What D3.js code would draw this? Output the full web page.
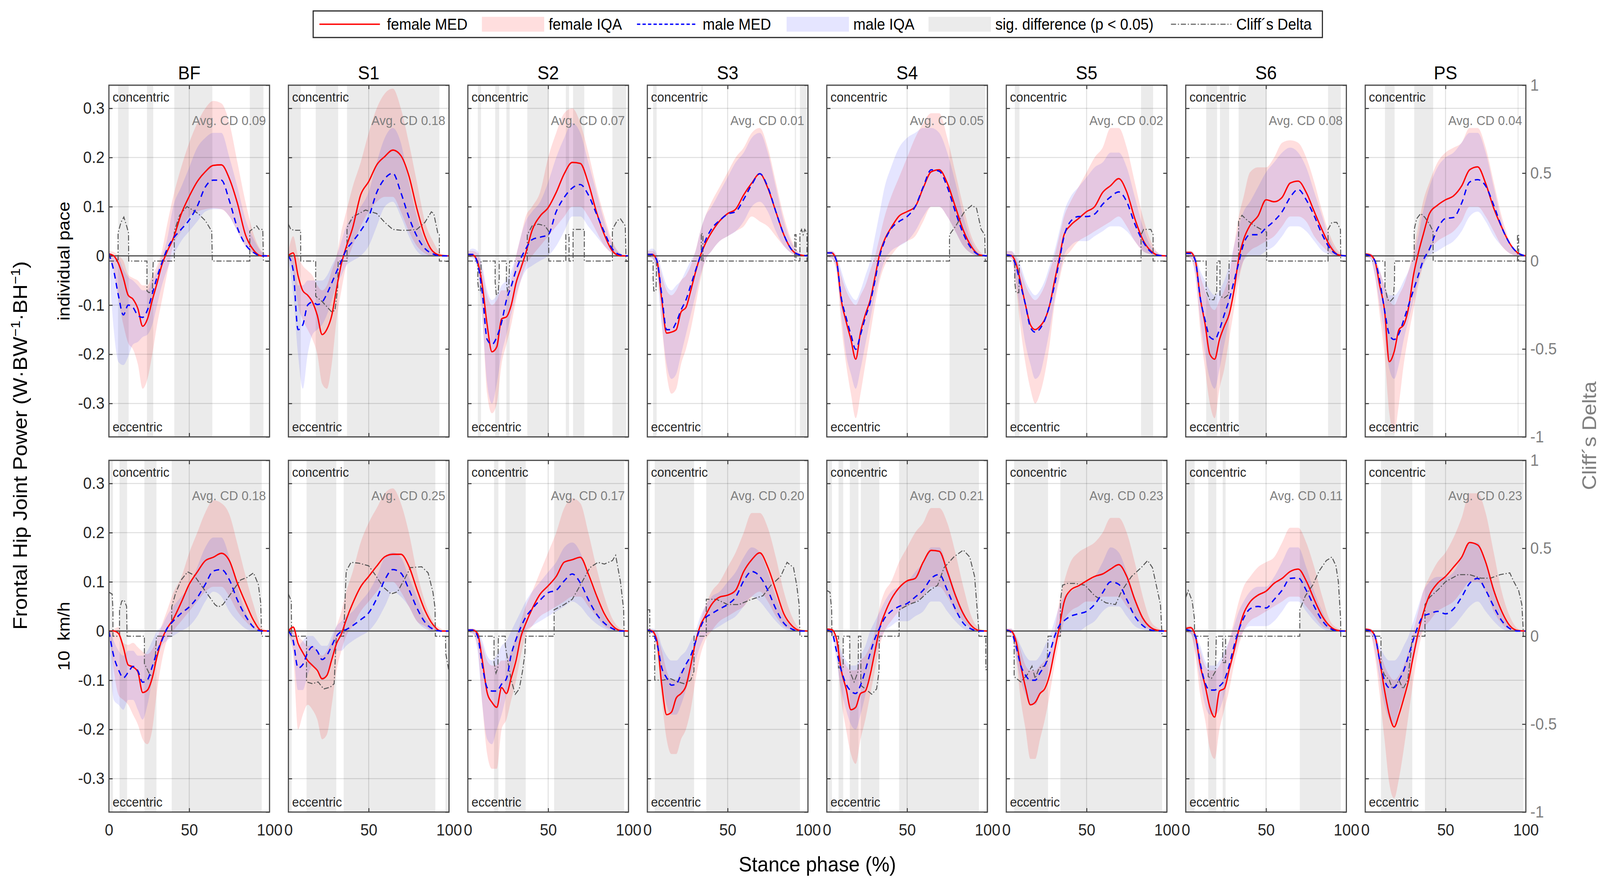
<!DOCTYPE html>
<html>
<head>
<meta charset="utf-8">
<script src="https://cdn.jsdelivr.net/npm/d3@7"></script>
<style>
  html, body { margin: 0; padding: 0; width: 100%; height: 100%; overflow: hidden; background: #fff; }
  #chart svg { display: block; width: 100vw; height: 100vh; }
  svg text { font-family: "Liberation Sans", Arial, Helvetica, sans-serif; }
</style>
</head>
<body>
<div id="chart"></div>
<script>
// stance phase sample points (%)
const stance = [0,3,6,9,12,15,18,21,24,27,30,33,36,40,45,50,55,60,65,70,75,80,85,90,95,100];
const columns = ["BF","S1","S2","S3","S4","S5","S6","PS"];
const rowLabels = ["individual pace", "10  km/h"];
const avgCD = [
  [0.09,0.18,0.07,0.01,0.05,0.02,0.08,0.04],
  [0.18,0.25,0.17,0.20,0.21,0.23,0.11,0.23]
];
const powerTicks = [-0.3,-0.2,-0.1,0,0.1,0.2,0.3];
const cliffTicks = [-1,-0.5,0,0.5,1];
const stanceTicks = [0,50,100];
const legendLabels = ["female MED","female IQA","male MED","male IQA","sig. difference (p < 0.05)","Cliff\u00b4s Delta"];

// ---- individual pace (one list per column, BF..PS) ----
const femaleMedPace = [
  [0.004,0,-0.016,-0.045,-0.08,-0.088,-0.107,-0.143,-0.128,-0.09,-0.055,-0.018,0.007,0.035,0.085,0.121,0.151,0.171,0.184,0.185,0.157,0.107,0.043,0.012,0,0],
  [0.001,0.006,-0.04,-0.071,-0.08,-0.094,-0.121,-0.16,-0.149,-0.121,-0.066,-0.016,0.018,0.057,0.124,0.151,0.185,0.202,0.215,0.204,0.163,0.096,0.04,0.009,0.001,0],
  [0.003,0.002,-0.012,-0.06,-0.14,-0.195,-0.185,-0.128,-0.124,-0.1,-0.055,-0.025,0.005,0.052,0.081,0.098,0.129,0.167,0.19,0.188,0.148,0.09,0.043,0.01,0,0],
  [0.003,0.003,-0.01,-0.09,-0.157,-0.155,-0.15,-0.114,-0.105,-0.071,-0.033,0,0.024,0.048,0.071,0.086,0.095,0.124,0.148,0.167,0.138,0.09,0.043,0.012,0.002,0],
  [0.006,0.006,-0.01,-0.09,-0.133,-0.17,-0.21,-0.155,-0.119,-0.09,-0.043,0.005,0.033,0.057,0.081,0.09,0.1,0.138,0.171,0.175,0.148,0.1,0.052,0.019,0.002,0],
  [0.002,0.001,-0.015,-0.055,-0.1,-0.14,-0.15,-0.143,-0.129,-0.1,-0.052,-0.005,0.043,0.062,0.076,0.09,0.1,0.129,0.143,0.157,0.13,0.076,0.033,0.01,0.001,0],
  [0.007,0.007,-0.01,-0.085,-0.138,-0.2,-0.21,-0.17,-0.143,-0.119,-0.071,-0.005,0.033,0.062,0.081,0.114,0.11,0.119,0.148,0.152,0.129,0.09,0.052,0.019,0.002,0],
  [0.004,0.002,-0.01,-0.06,-0.11,-0.215,-0.195,-0.15,-0.14,-0.105,-0.04,0.005,0.042,0.086,0.103,0.114,0.122,0.142,0.175,0.181,0.147,0.097,0.058,0.025,0.006,0]
];
const maleMedPace = [
  [0.005,-0.03,-0.082,-0.12,-0.1,-0.105,-0.121,-0.125,-0.11,-0.077,-0.043,-0.014,0.012,0.035,0.054,0.073,0.101,0.14,0.154,0.154,0.112,0.057,0.023,0.007,0,0],
  [0,-0.03,-0.15,-0.14,-0.1,-0.094,-0.099,-0.094,-0.077,-0.055,-0.032,-0.01,0.012,0.029,0.051,0.079,0.129,0.157,0.168,0.129,0.079,0.04,0.015,0.004,0,0],
  [0.003,0.003,-0.015,-0.075,-0.17,-0.18,-0.165,-0.135,-0.09,-0.062,-0.029,-0.005,0.014,0.033,0.038,0.043,0.09,0.119,0.138,0.145,0.124,0.086,0.048,0.014,0.002,0],
  [0.003,0.003,-0.01,-0.08,-0.15,-0.15,-0.135,-0.11,-0.09,-0.06,-0.03,0,0.03,0.055,0.072,0.085,0.09,0.115,0.145,0.167,0.14,0.09,0.043,0.012,0.002,0],
  [0.006,0.006,-0.01,-0.085,-0.125,-0.16,-0.19,-0.16,-0.125,-0.095,-0.05,0,0.03,0.055,0.07,0.08,0.1,0.14,0.175,0.172,0.14,0.09,0.045,0.015,0.002,0],
  [0.002,0,-0.02,-0.06,-0.1,-0.145,-0.155,-0.148,-0.13,-0.1,-0.06,-0.01,0.04,0.07,0.08,0.08,0.085,0.105,0.12,0.13,0.11,0.065,0.03,0.008,0.001,0],
  [0.005,0.005,-0.01,-0.085,-0.13,-0.165,-0.17,-0.15,-0.119,-0.09,-0.052,-0.014,0.024,0.043,0.043,0.057,0.071,0.09,0.119,0.135,0.114,0.081,0.043,0.014,0.002,0],
  [0.003,0,-0.01,-0.05,-0.11,-0.16,-0.17,-0.158,-0.13,-0.1,-0.07,-0.04,-0.01,0.014,0.055,0.076,0.078,0.107,0.15,0.155,0.142,0.103,0.058,0.025,0.006,0]
];
const femaleLoPace = [
  [-0.005,-0.03,-0.09,-0.14,-0.177,-0.19,-0.22,-0.27,-0.25,-0.2,-0.14,-0.09,-0.04,0.02,0.05,0.08,0.09,0.095,0.097,0.095,0.08,0.05,0.02,0.005,0,0],
  [-0.005,-0.03,-0.1,-0.13,-0.15,-0.17,-0.2,-0.26,-0.27,-0.22,-0.13,-0.07,-0.02,0.02,0.06,0.09,0.11,0.12,0.12,0.09,0.05,0.02,0.005,0,0,0],
  [-0.003,-0.003,-0.02,-0.12,-0.28,-0.32,-0.3,-0.22,-0.18,-0.14,-0.09,-0.05,-0.02,0,0.02,0.04,0.06,0.08,0.1,0.1,0.08,0.05,0.02,0.005,0,0],
  [-0.003,-0.005,-0.03,-0.14,-0.24,-0.28,-0.27,-0.22,-0.19,-0.15,-0.1,-0.05,-0.01,0.01,0.03,0.04,0.05,0.06,0.08,0.07,0.06,0.04,0.02,0.005,0,0],
  [-0.003,-0.005,-0.03,-0.14,-0.22,-0.28,-0.33,-0.28,-0.22,-0.16,-0.1,-0.05,-0.02,0,0.02,0.03,0.04,0.07,0.1,0.1,0.08,0.05,0.02,0.005,0,0],
  [-0.003,-0.005,-0.06,-0.15,-0.22,-0.27,-0.3,-0.28,-0.24,-0.18,-0.1,-0.05,-0.01,0.01,0.03,0.04,0.05,0.06,0.07,0.08,0.06,0.03,0.01,0.003,0,0],
  [-0.003,-0.005,-0.04,-0.15,-0.23,-0.3,-0.33,-0.27,-0.23,-0.17,-0.11,-0.05,-0.01,0.01,0.02,0.03,0.04,0.06,0.08,0.08,0.07,0.04,0.02,0.005,0,0],
  [-0.003,-0.005,-0.04,-0.12,-0.2,-0.32,-0.36,-0.3,-0.22,-0.16,-0.11,-0.06,-0.02,0.01,0.03,0.04,0.05,0.07,0.1,0.1,0.08,0.05,0.02,0.005,0,0]
];
const femaleHiPace = [
  [0.01,0.008,0,-0.01,-0.038,-0.045,-0.05,-0.06,-0.06,-0.04,-0.02,0.01,0.06,0.12,0.18,0.23,0.27,0.3,0.315,0.31,0.27,0.19,0.11,0.045,0.01,0],
  [0.01,0.04,0,-0.02,-0.03,-0.04,-0.06,-0.07,-0.06,-0.03,0,0.05,0.09,0.14,0.19,0.25,0.3,0.33,0.34,0.3,0.23,0.15,0.07,0.03,0.005,0],
  [0.01,0.01,0.005,-0.03,-0.08,-0.1,-0.09,-0.07,-0.07,-0.05,0,0.04,0.08,0.1,0.13,0.2,0.25,0.29,0.3,0.27,0.21,0.14,0.08,0.03,0.005,0],
  [0.01,0.01,0,-0.04,-0.07,-0.08,-0.07,-0.05,-0.04,-0.02,0.01,0.05,0.08,0.11,0.14,0.17,0.2,0.22,0.25,0.26,0.22,0.15,0.08,0.03,0.005,0],
  [0.01,0.01,0,-0.04,-0.07,-0.09,-0.1,-0.08,-0.06,-0.03,0,0.04,0.08,0.12,0.16,0.2,0.24,0.27,0.29,0.29,0.24,0.17,0.1,0.04,0.01,0],
  [0.01,0.01,-0.005,-0.03,-0.06,-0.08,-0.09,-0.08,-0.06,-0.03,0,0.04,0.08,0.11,0.14,0.17,0.2,0.22,0.26,0.26,0.22,0.15,0.08,0.03,0.005,0],
  [0.01,0.01,0,-0.04,-0.07,-0.1,-0.11,-0.09,-0.07,-0.04,0.02,0.08,0.12,0.17,0.18,0.18,0.2,0.23,0.235,0.23,0.2,0.15,0.09,0.04,0.01,0],
  [0.005,0.005,-0.005,-0.03,-0.06,-0.09,-0.1,-0.08,-0.06,-0.03,0.01,0.06,0.11,0.15,0.19,0.21,0.22,0.23,0.26,0.26,0.22,0.15,0.08,0.03,0.005,0]
];
const maleLoPace = [
  [-0.01,-0.15,-0.216,-0.222,-0.205,-0.18,-0.175,-0.165,-0.16,-0.14,-0.1,-0.06,-0.03,0,0.03,0.05,0.07,0.09,0.095,0.095,0.08,0.05,0.02,0.005,0,0],
  [-0.005,-0.08,-0.2,-0.27,-0.2,-0.16,-0.15,-0.14,-0.12,-0.09,-0.06,-0.04,-0.02,-0.01,0,0.02,0.06,0.1,0.11,0.08,0.04,0.01,0,0,0,0],
  [-0.003,-0.005,-0.03,-0.13,-0.26,-0.3,-0.26,-0.2,-0.16,-0.12,-0.08,-0.05,-0.03,-0.02,-0.01,0,0.02,0.05,0.08,0.08,0.06,0.04,0.02,0.005,0,0],
  [-0.003,-0.005,-0.04,-0.14,-0.22,-0.25,-0.24,-0.2,-0.16,-0.12,-0.08,-0.04,-0.01,0.01,0.03,0.04,0.05,0.07,0.1,0.11,0.09,0.05,0.02,0.005,0,0],
  [-0.003,-0.005,-0.03,-0.12,-0.2,-0.24,-0.27,-0.23,-0.18,-0.13,-0.08,-0.04,-0.01,0.01,0.02,0.03,0.05,0.08,0.1,0.1,0.08,0.05,0.02,0.005,0,0],
  [-0.003,-0.005,-0.05,-0.12,-0.18,-0.22,-0.25,-0.24,-0.2,-0.15,-0.09,-0.04,0,0.02,0.03,0.03,0.04,0.05,0.06,0.06,0.05,0.03,0.01,0.003,0,0],
  [-0.003,-0.005,-0.04,-0.13,-0.2,-0.25,-0.27,-0.23,-0.18,-0.13,-0.08,-0.04,-0.01,0,0,0.01,0.02,0.04,0.06,0.06,0.05,0.03,0.01,0.003,0,0],
  [-0.003,-0.005,-0.04,-0.1,-0.16,-0.23,-0.25,-0.22,-0.17,-0.13,-0.09,-0.05,-0.02,0,0.01,0.02,0.03,0.05,0.08,0.09,0.07,0.04,0.02,0.005,0,0]
];
const maleHiPace = [
  [0.008,0,-0.005,-0.027,-0.043,-0.05,-0.06,-0.07,-0.07,-0.05,-0.03,0,0.03,0.1,0.14,0.18,0.22,0.24,0.25,0.25,0.2,0.14,0.075,0.035,0.008,0],
  [0.005,0,-0.06,-0.06,-0.05,-0.05,-0.05,-0.05,-0.04,-0.02,0,0.03,0.06,0.08,0.1,0.13,0.19,0.24,0.26,0.23,0.15,0.08,0.03,0.01,0,0],
  [0.01,0.015,0.01,-0.02,-0.07,-0.09,-0.08,-0.06,-0.05,-0.03,0,0.04,0.07,0.09,0.11,0.15,0.2,0.24,0.27,0.25,0.19,0.13,0.07,0.025,0.005,0],
  [0.01,0.015,0.005,-0.03,-0.06,-0.07,-0.06,-0.05,-0.03,-0.01,0.01,0.05,0.08,0.1,0.13,0.16,0.19,0.21,0.24,0.25,0.21,0.14,0.07,0.025,0.005,0],
  [0.01,0.01,0,-0.03,-0.06,-0.08,-0.09,-0.07,-0.04,-0.01,0.04,0.09,0.14,0.18,0.22,0.24,0.25,0.26,0.26,0.25,0.21,0.15,0.08,0.03,0.005,0],
  [0.01,0.01,0,-0.02,-0.05,-0.07,-0.08,-0.07,-0.05,-0.02,0.01,0.05,0.09,0.12,0.14,0.16,0.18,0.19,0.21,0.21,0.18,0.12,0.06,0.02,0.005,0],
  [0.01,0.01,0,-0.03,-0.05,-0.07,-0.08,-0.07,-0.05,-0.02,0.02,0.06,0.09,0.11,0.14,0.17,0.19,0.21,0.22,0.21,0.18,0.13,0.08,0.03,0.005,0],
  [0.005,0.005,-0.005,-0.03,-0.06,-0.08,-0.08,-0.07,-0.05,-0.03,0,0.04,0.09,0.14,0.18,0.2,0.21,0.23,0.25,0.25,0.21,0.14,0.07,0.025,0.005,0]
];
// significant stance intervals [start, end] in %
const sigPace = [
  [[5.7,12.3],[23.7,27.6],[40.7,64.4],[87.7,96.2]],
  [[0,7.7],[17,31],[36.5,94]],
  [[6.2,8.2],[17,19.5],[24,26],[37,50.4],[61,63],[65.5,72.5],[90,98.5]],
  [[3.6,5.8],[33.6,34.6],[91.8,92.6],[95,99.4]],
  [[76.4,98.7]],
  [[5.3,8.2],[83.9,91.4]],
  [[12.7,19.5],[21.3,27],[32.9,50.4],[88.6,96.5]],
  [[12.3,18.3],[30.5,42.3],[94.8,95.5]]
];
// Cliff's delta trace [stance %, delta]
const cliffPace = [
  [[0,0],[5.7,0],[5.7,0.16],[7.5,0.22],[9.3,0.25],[11,0.2],[12.2,0.16],[12.3,0],[23.7,0],[23.7,-0.17],[25,-0.18],[27,-0.17],[27.6,0],[40.7,0],[40.7,0.17],[44,0.26],[48.6,0.31],[55.6,0.27],[60,0.23],[64,0.17],[64.4,0],[87.7,0],[87.7,0.17],[92,0.2],[93.5,0.18],[95.8,0.18],[96.2,0],[100,0]],
  [[0,0.21],[1.5,0.18],[4,0.175],[7.6,0.175],[7.7,0],[17,0],[17,-0.2],[21,-0.23],[24,-0.26],[27,-0.29],[29,-0.28],[30.7,-0.15],[31,0],[36.5,0],[36.5,0.19],[40,0.25],[48,0.29],[55,0.27],[60,0.22],[65,0.18],[70,0.175],[75,0.175],[80,0.18],[85,0.22],[89,0.28],[90.5,0.27],[93,0.16],[94,0.15],[94,0],[100,0]],
  [[0,0],[6.2,0],[6.2,-0.12],[6.8,-0.17],[7.8,-0.17],[8.2,-0.1],[8.2,0],[17,0],[17,-0.12],[17.7,-0.19],[18.8,-0.19],[19.5,-0.1],[19.5,0],[24,0],[24,-0.12],[24.7,-0.17],[25.5,-0.15],[26,0],[37,0],[37,0.15],[40,0.2],[44,0.21],[48,0.2],[50.3,0.17],[50.4,0],[61,0],[61,0.15],[63,0.15],[63,0],[65.5,0],[65.5,0.18],[72.5,0.18],[72.5,0],[90,0],[90,0.18],[93,0.23],[95,0.24],[98,0.2],[98.5,0],[100,0]],
  [[0,0],[3.6,0],[3.6,-0.1],[4,-0.17],[5.4,-0.17],[5.8,0],[33.6,0],[33.6,0.16],[34.6,0.15],[34.6,0],[91.8,0],[91.8,0.15],[92.6,0.15],[92.6,0],[95,0],[95,0.16],[96,0.18],[97,0.15],[98,0.18],[99.4,0.16],[99.4,0],[100,0]],
  [[0,0],[76.4,0],[76.4,0.15],[80.3,0.2],[86,0.285],[90.3,0.317],[93.2,0.3],[96.1,0.18],[98.3,0.15],[98.7,0],[100,0]],
  [[0,0],[5.3,0],[5.3,-0.12],[6,-0.18],[7.8,-0.18],[8.2,0],[83.9,0],[83.9,0.15],[85.5,0.18],[90,0.18],[91.4,0.15],[91.4,0],[100,0]],
  [[0,0],[12.7,0],[12.7,-0.17],[15,-0.22],[17.5,-0.22],[19.3,-0.17],[19.5,0],[21.3,0],[21.3,-0.2],[24,-0.21],[26.8,-0.19],[27,0],[32.9,0],[32.9,0.23],[35,0.26],[38.5,0.23],[43,0.2],[47,0.18],[50.3,0.165],[50.4,0],[88.6,0],[88.6,0.18],[91,0.22],[94,0.22],[96.3,0.18],[96.5,0],[100,0]],
  [[0,0],[12.3,0],[12.3,-0.15],[14,-0.22],[15.5,-0.23],[17.5,-0.21],[18.2,-0.12],[18.3,0],[30.5,0],[30.5,0.18],[32,0.24],[34.5,0.27],[37,0.25],[40,0.21],[42.2,0.17],[42.3,0],[94.8,0],[94.8,0.15],[95.5,0.15],[95.5,0],[100,0]]
];

// ---- 10 km/h ----
const femaleMed10 = [
  [0,0,-0.005,-0.033,-0.069,-0.073,-0.083,-0.125,-0.12,-0.095,-0.051,-0.017,0.004,0.024,0.058,0.095,0.12,0.143,0.15,0.158,0.143,0.097,0.058,0.022,0.001,0],
  [0,0.008,-0.025,-0.044,-0.06,-0.07,-0.08,-0.097,-0.09,-0.058,-0.025,-0.006,0.023,0.056,0.09,0.111,0.132,0.151,0.156,0.156,0.132,0.085,0.042,0.013,0,0],
  [0.002,0.002,-0.005,-0.06,-0.125,-0.145,-0.155,-0.115,-0.127,-0.095,-0.06,-0.012,0.015,0.045,0.075,0.092,0.111,0.14,0.145,0.15,0.116,0.073,0.035,0.011,0.001,0],
  [0.002,0,-0.02,-0.11,-0.17,-0.165,-0.136,-0.127,-0.112,-0.07,-0.022,0.011,0.03,0.054,0.069,0.073,0.083,0.121,0.145,0.159,0.13,0.083,0.035,0.011,0.001,0],
  [0.004,0.003,-0.015,-0.08,-0.117,-0.16,-0.155,-0.127,-0.122,-0.089,-0.041,0.007,0.035,0.064,0.088,0.102,0.107,0.14,0.164,0.162,0.121,0.073,0.035,0.011,0.001,0],
  [0.002,0,-0.02,-0.07,-0.115,-0.15,-0.145,-0.127,-0.117,-0.089,-0.041,0.007,0.059,0.083,0.092,0.102,0.111,0.116,0.126,0.135,0.111,0.064,0.026,0.007,0.001,0],
  [0.005,0.007,-0.01,-0.07,-0.11,-0.155,-0.175,-0.122,-0.117,-0.079,-0.041,0.002,0.035,0.059,0.073,0.081,0.097,0.107,0.121,0.126,0.102,0.064,0.03,0.009,0.001,0],
  [0.004,0.002,-0.01,-0.06,-0.12,-0.17,-0.195,-0.17,-0.137,-0.1,-0.05,-0.003,0.035,0.073,0.097,0.111,0.13,0.15,0.18,0.175,0.14,0.083,0.04,0.011,0.001,0]
];
const maleMed10 = [
  [0,-0.051,-0.079,-0.095,-0.084,-0.072,-0.081,-0.104,-0.099,-0.072,-0.042,-0.019,0.004,0.02,0.036,0.049,0.068,0.095,0.122,0.125,0.104,0.063,0.031,0.008,0,0],
  [0,-0.02,-0.075,-0.068,-0.044,-0.032,-0.041,-0.058,-0.049,-0.03,-0.01,-0.001,0.003,0.011,0.023,0.037,0.066,0.104,0.125,0.118,0.085,0.047,0.018,0.004,0,0],
  [0.002,0.002,-0.01,-0.07,-0.115,-0.122,-0.122,-0.108,-0.097,-0.048,-0.017,0.008,0.028,0.045,0.063,0.078,0.083,0.102,0.116,0.098,0.064,0.035,0.016,0.005,0,0],
  [0.002,-0.002,-0.025,-0.075,-0.095,-0.11,-0.108,-0.088,-0.068,-0.05,-0.022,0.007,0.026,0.035,0.045,0.054,0.069,0.102,0.121,0.111,0.083,0.045,0.016,0.004,0,0],
  [0.002,-0.002,-0.04,-0.08,-0.108,-0.122,-0.127,-0.11,-0.08,-0.045,-0.015,0.007,0.026,0.04,0.05,0.056,0.069,0.083,0.107,0.115,0.083,0.045,0.016,0.004,0,0],
  [0.002,-0.002,-0.03,-0.07,-0.09,-0.1,-0.1,-0.085,-0.07,-0.045,-0.012,0.011,0.021,0.03,0.035,0.04,0.054,0.078,0.1,0.095,0.064,0.03,0.011,0.002,0,0],
  [0.003,0,-0.01,-0.065,-0.105,-0.12,-0.12,-0.112,-0.1,-0.07,-0.031,0.002,0.026,0.045,0.05,0.047,0.064,0.083,0.107,0.108,0.083,0.05,0.021,0.005,0,0],
  [0.002,0,-0.01,-0.06,-0.1,-0.115,-0.115,-0.1,-0.08,-0.05,-0.017,0.011,0.03,0.035,0.04,0.035,0.045,0.069,0.097,0.107,0.083,0.05,0.021,0.005,0,0]
];
const femaleLo10 = [
  [0,-0.08,-0.13,-0.14,-0.15,-0.17,-0.19,-0.22,-0.23,-0.2,-0.12,-0.06,-0.02,0,0.02,0.04,0.06,0.08,0.09,0.09,0.07,0.04,0.02,0.005,0,0],
  [-0.005,-0.05,-0.2,-0.17,-0.15,-0.16,-0.18,-0.22,-0.21,-0.15,-0.08,-0.04,-0.01,0.01,0.04,0.06,0.08,0.1,0.1,0.08,0.05,0.02,0.01,0,0,0],
  [-0.003,-0.005,-0.03,-0.15,-0.25,-0.28,-0.28,-0.2,-0.18,-0.14,-0.1,-0.05,-0.01,0.01,0.03,0.04,0.05,0.06,0.07,0.07,0.05,0.03,0.01,0.003,0,0],
  [-0.003,-0.005,-0.04,-0.14,-0.22,-0.25,-0.25,-0.22,-0.2,-0.16,-0.1,-0.05,-0.02,0,0.02,0.03,0.04,0.05,0.07,0.08,0.06,0.03,0.01,0.003,0,0],
  [-0.003,-0.005,-0.04,-0.14,-0.2,-0.25,-0.27,-0.22,-0.18,-0.13,-0.08,-0.03,0,0.02,0.04,0.05,0.06,0.07,0.09,0.09,0.07,0.04,0.02,0.005,0,0],
  [-0.003,-0.005,-0.05,-0.14,-0.2,-0.26,-0.26,-0.22,-0.18,-0.13,-0.07,-0.02,0.02,0.04,0.05,0.06,0.06,0.07,0.07,0.07,0.05,0.03,0.01,0.003,0,0],
  [-0.003,-0.005,-0.05,-0.13,-0.18,-0.24,-0.26,-0.2,-0.16,-0.12,-0.07,-0.03,0,0.02,0.03,0.04,0.05,0.06,0.07,0.07,0.05,0.03,0.01,0.003,0,0],
  [-0.003,-0.005,-0.05,-0.13,-0.22,-0.31,-0.34,-0.3,-0.24,-0.17,-0.1,-0.04,0,0.02,0.04,0.05,0.06,0.08,0.1,0.1,0.08,0.04,0.015,0.003,0,0]
];
const femaleHi10 = [
  [0,0.004,0.008,-0.024,-0.028,-0.024,-0.033,-0.042,-0.047,-0.037,-0.015,0.013,0.04,0.077,0.109,0.159,0.2,0.241,0.266,0.26,0.237,0.177,0.113,0.054,0.008,0],
  [0.005,0.01,-0.01,-0.02,-0.03,-0.03,-0.04,-0.05,-0.04,-0.02,0.01,0.04,0.08,0.12,0.18,0.22,0.25,0.28,0.29,0.26,0.2,0.12,0.06,0.02,0.005,0],
  [0.005,0.005,0,-0.03,-0.06,-0.07,-0.07,-0.06,-0.06,-0.04,-0.01,0.02,0.05,0.08,0.12,0.16,0.2,0.25,0.27,0.26,0.2,0.13,0.07,0.025,0.005,0],
  [0.005,0.003,-0.01,-0.04,-0.08,-0.1,-0.1,-0.08,-0.07,-0.05,-0.02,0.02,0.05,0.08,0.1,0.13,0.16,0.2,0.24,0.24,0.21,0.15,0.08,0.03,0.005,0],
  [0.005,0.005,-0.01,-0.05,-0.07,-0.08,-0.08,-0.06,-0.05,-0.03,0,0.05,0.08,0.1,0.14,0.17,0.2,0.22,0.25,0.25,0.22,0.16,0.09,0.03,0.005,0],
  [0.005,0.005,-0.01,-0.04,-0.07,-0.08,-0.08,-0.07,-0.06,-0.04,0,0.06,0.1,0.14,0.16,0.17,0.18,0.2,0.23,0.23,0.2,0.14,0.07,0.02,0.005,0],
  [0.01,0.01,-0.005,-0.04,-0.07,-0.08,-0.08,-0.07,-0.05,-0.02,0.02,0.06,0.09,0.11,0.13,0.14,0.15,0.18,0.21,0.21,0.18,0.13,0.07,0.02,0.005,0],
  [0.005,0.005,-0.005,-0.04,-0.07,-0.09,-0.1,-0.09,-0.07,-0.04,0,0.04,0.08,0.11,0.14,0.16,0.19,0.23,0.28,0.28,0.24,0.16,0.08,0.03,0.005,0]
];
const maleLo10 = [
  [-0.005,-0.14,-0.15,-0.16,-0.14,-0.14,-0.16,-0.18,-0.15,-0.1,-0.06,-0.03,-0.02,-0.01,0,0.01,0.03,0.06,0.08,0.07,0.04,0.02,0.005,0,0,0],
  [-0.005,-0.04,-0.12,-0.12,-0.09,-0.07,-0.08,-0.1,-0.09,-0.06,-0.04,-0.04,-0.03,-0.02,-0.01,0,0.02,0.05,0.08,0.07,0.05,0.02,0.005,0,0,0],
  [-0.003,-0.005,-0.04,-0.15,-0.22,-0.23,-0.2,-0.17,-0.13,-0.09,-0.05,-0.02,0,0.01,0.02,0.03,0.04,0.05,0.06,0.05,0.03,0.015,0.005,0,0,0],
  [-0.003,-0.005,-0.03,-0.1,-0.15,-0.17,-0.17,-0.15,-0.12,-0.09,-0.06,-0.03,-0.01,0,0.01,0.02,0.03,0.05,0.07,0.06,0.04,0.02,0.005,0,0,0],
  [-0.003,-0.005,-0.06,-0.12,-0.16,-0.19,-0.2,-0.17,-0.13,-0.08,-0.05,-0.02,0,0.01,0.02,0.02,0.03,0.04,0.06,0.06,0.04,0.02,0.005,0,0,0],
  [-0.003,-0.005,-0.05,-0.1,-0.13,-0.15,-0.15,-0.13,-0.11,-0.08,-0.04,-0.01,0,0,0,0.01,0.02,0.04,0.05,0.05,0.03,0.01,0.003,0,0,0],
  [-0.003,-0.005,-0.04,-0.1,-0.15,-0.17,-0.17,-0.16,-0.13,-0.09,-0.05,-0.02,0,0.01,0.01,0.01,0.02,0.04,0.06,0.06,0.04,0.02,0.005,0,0,0],
  [-0.003,-0.005,-0.04,-0.1,-0.15,-0.18,-0.19,-0.16,-0.13,-0.09,-0.06,-0.02,0,0,0,0,0.01,0.03,0.05,0.06,0.04,0.02,0.005,0,0,0]
];
const maleHi10 = [
  [0.005,-0.02,-0.04,-0.05,-0.04,-0.04,-0.05,-0.05,-0.04,-0.02,0,0.01,0.03,0.05,0.07,0.09,0.13,0.17,0.19,0.19,0.15,0.09,0.04,0.01,0,0],
  [0.005,0,-0.03,-0.02,-0.01,-0.01,-0.02,-0.03,-0.03,-0.01,0.01,0.02,0.03,0.04,0.06,0.08,0.11,0.15,0.16,0.15,0.11,0.07,0.03,0.01,0,0],
  [0.005,0.005,0,-0.02,-0.05,-0.06,-0.05,-0.03,-0.02,0,0.02,0.04,0.06,0.08,0.1,0.12,0.14,0.17,0.18,0.16,0.11,0.07,0.03,0.01,0,0],
  [0.005,0.005,0,-0.03,-0.05,-0.06,-0.06,-0.05,-0.04,-0.02,0,0.03,0.05,0.07,0.08,0.1,0.12,0.15,0.17,0.16,0.12,0.07,0.03,0.01,0,0],
  [0.005,0.005,-0.01,-0.04,-0.06,-0.07,-0.07,-0.05,-0.03,0,0.02,0.04,0.06,0.08,0.09,0.1,0.12,0.14,0.17,0.17,0.13,0.08,0.04,0.01,0,0],
  [0.005,0.005,-0.01,-0.03,-0.05,-0.06,-0.06,-0.05,-0.03,-0.01,0.02,0.05,0.07,0.08,0.09,0.1,0.11,0.14,0.17,0.16,0.12,0.07,0.03,0.01,0,0],
  [0.008,0.008,-0.005,-0.03,-0.06,-0.07,-0.07,-0.06,-0.04,-0.02,0.01,0.04,0.06,0.08,0.09,0.09,0.11,0.14,0.17,0.17,0.13,0.08,0.04,0.01,0,0],
  [0.005,0.005,-0.005,-0.03,-0.05,-0.06,-0.06,-0.05,-0.03,-0.01,0.02,0.05,0.08,0.1,0.11,0.11,0.12,0.15,0.18,0.18,0.14,0.09,0.04,0.01,0,0]
];
const sig10 = [
  [[0,2.5],[6.6,11.3],[22.1,29.6],[39.1,95.1]],
  [[0,2],[11.3,29.8],[34.4,91.5],[97.8,100]],
  [[16.3,19],[23.3,36],[53.7,97.3]],
  [[0,1.5],[4.6,29.1],[36.7,95]],
  [[0,3.2],[7.3,10.2],[14.3,19.7],[21.2,32.7],[45,94.7],[99,100]],
  [[4.9,26],[33.7,97]],
  [[0,5.5],[14,19],[23,24.8],[71,96.5]],
  [[9.8,29.3],[37.2,98.4]]
];
const cliff10 = [
  [[0,0.25],[2,0.24],[2.5,0.15],[2.5,0],[6.6,0],[6.6,0.15],[8,0.2],[9.5,0.205],[11,0.17],[11.3,0],[22.1,0],[22.1,-0.156],[25,-0.21],[27,-0.234],[28.5,-0.18],[29.6,0],[39.1,0],[39.1,0.166],[41.5,0.244],[45,0.32],[49,0.366],[53,0.347],[57,0.295],[61,0.244],[66,0.18],[68,0.166],[71,0.18],[75,0.23],[79,0.283],[82,0.32],[86,0.334],[90,0.36],[93,0.295],[94.5,0.19],[95.1,0],[100,0]],
  [[0,0.24],[1.8,0.2],[2,0],[11.3,0],[11.3,-0.26],[15,-0.27],[18.5,-0.26],[22,-0.3],[26,-0.29],[28.5,-0.27],[29.8,0],[34.4,0],[36,0.37],[39,0.42],[44,0.415],[50,0.4],[54,0.35],[59,0.28],[64,0.24],[68,0.253],[72,0.32],[76,0.39],[83,0.395],[87,0.36],[90,0.25],[91.3,0.16],[91.5,0],[97.8,0],[98,-0.1],[100,-0.2]],
  [[0,0],[16.3,0],[16.3,-0.15],[17.5,-0.21],[18.7,-0.18],[19,0],[23.3,0],[23.3,-0.05],[25,-0.15],[27,-0.25],[29.5,-0.33],[32,-0.3],[34,-0.2],[35.5,-0.1],[36,0],[53.7,0],[53.7,0.15],[60,0.18],[65,0.21],[70,0.29],[76,0.39],[81,0.42],[85,0.41],[90,0.43],[92,0.46],[95,0.31],[97,0.15],[97.3,0],[100,0]],
  [[0,0.15],[1.5,0.15],[1.5,0],[4.6,0],[4.6,-0.25],[10,-0.25],[14,-0.24],[19,-0.26],[23,-0.27],[27,-0.25],[29,-0.2],[29.1,0],[36.7,0],[36.7,0.21],[43,0.21],[50,0.18],[57,0.18],[65,0.21],[72,0.23],[77,0.29],[83,0.34],[87,0.42],[91,0.39],[93,0.29],[94.5,0.18],[95,0],[100,0]],
  [[0,0.26],[2,0.25],[3,0.15],[3.2,0],[7.3,0],[7.3,-0.18],[10.2,-0.18],[10.2,0],[14.3,0],[14.3,-0.2],[17,-0.26],[19.5,-0.2],[19.7,0],[21.2,0],[21.2,-0.28],[24,-0.3],[28,-0.33],[31,-0.3],[32.5,-0.2],[32.7,0],[45,0],[45,0.15],[51,0.18],[57,0.2],[64,0.26],[69,0.29],[73,0.39],[79,0.45],[85,0.49],[89,0.45],[92,0.34],[94.5,0.05],[94.7,0],[99,0],[99,-0.19],[100,-0.19]],
  [[0,0],[4.9,0],[4.9,-0.23],[9,-0.26],[13,-0.22],[16,-0.17],[18,-0.24],[20.5,-0.18],[23.5,-0.17],[25.5,-0.15],[26,0],[33.7,0],[33.7,0.2],[35,0.29],[38,0.3],[43,0.3],[49,0.29],[55,0.23],[62,0.19],[68,0.18],[72,0.26],[78,0.34],[84,0.39],[88,0.43],[91,0.39],[96,0.18],[97,0],[100,0]],
  [[0,0.22],[1.5,0.26],[4,0.2],[5.4,0.1],[5.5,0],[14,0],[14,-0.23],[16,-0.24],[18.5,-0.2],[19,0],[23,0],[23,-0.15],[24.8,-0.15],[24.8,0],[71,0],[71,0.15],[74.5,0.23],[79,0.29],[83,0.37],[87.5,0.43],[91,0.45],[93.5,0.4],[95,0.31],[96.4,0.1],[96.5,0],[100,0]],
  [[0,0],[9.8,0],[9.8,-0.17],[12,-0.22],[15,-0.25],[17,-0.3],[19,-0.28],[21,-0.25],[23.5,-0.3],[26.5,-0.25],[28.5,-0.09],[29.3,0],[37.2,0],[37.2,0.18],[40,0.22],[46,0.27],[50,0.31],[58,0.35],[65,0.35],[72,0.33],[78,0.33],[84,0.35],[90,0.36],[92.5,0.31],[95.5,0.26],[97.5,0.18],[98.3,0.05],[98.4,0],[100,0]]
];

// ---- layout ----
const W = 4363, H = 2257;
const panelLeft0 = 297, panelStep = 489.4, panelW = 438, panelH = 900;
const rowTop = [218, 1178];
const fontTick = 42, fontInner = 34;

const rowsData = [
  { fMed: femaleMedPace, mMed: maleMedPace, fLo: femaleLoPace, fHi: femaleHiPace, mLo: maleLoPace, mHi: maleHiPace, sig: sigPace, cd: cliffPace },
  { fMed: femaleMed10, mMed: maleMed10, fLo: femaleLo10, fHi: femaleHi10, mLo: maleLo10, mHi: maleHi10, sig: sig10, cd: cliff10 }
];

// the svg is stretched to the window so the figure fills the frame
const svg = d3.select("#chart").append("svg")
  .attr("viewBox", `0 0 ${W} ${H}`)
  .attr("preserveAspectRatio", "none");
svg.append("rect").attr("width", W).attr("height", H).attr("fill", "#fff");

const fmtPower = d => d === 0 ? "0" : d.toFixed(1);
const fmtCD = d => d === 0 ? "0" : String(d);

rowsData.forEach((rd, r) => {
  columns.forEach((col, c) => {
    const x0 = panelLeft0 + c * panelStep, y0 = rowTop[r];
    const g = svg.append("g").attr("transform", `translate(${x0},${y0})`);

    const x = d3.scaleLinear().domain([0, 100]).range([0, panelW]);
    const y = d3.scaleLinear().domain([-0.368, 0.347]).range([panelH, 0]);
    const yCD = d3.scaleLinear().domain([-1, 1]).range([panelH, 0]);

    const clipId = `clip-${r}-${c}`;
    g.append("clipPath").attr("id", clipId)
      .append("rect").attr("width", panelW).attr("height", panelH);
    const inner = g.append("g").attr("clip-path", `url(#${clipId})`);

    // significant-difference shading
    inner.selectAll("rect.sig").data(rd.sig[c]).enter().append("rect")
      .attr("class", "sig")
      .attr("x", d => x(d[0])).attr("width", d => x(d[1]) - x(d[0]))
      .attr("y", 0).attr("height", panelH)
      .attr("fill", "#ebebeb");

    // IQA bands
    const band = (lo, hi) => d3.area()
      .x((d, i) => x(stance[i]))
      .y0((d, i) => y(lo[i]))
      .y1((d, i) => y(hi[i]))
      .curve(d3.curveMonotoneX)(stance);
    inner.append("path").attr("d", band(rd.fLo[c], rd.fHi[c]))
      .attr("fill", "#ff0000").attr("fill-opacity", 0.13);
    inner.append("path").attr("d", band(rd.mLo[c], rd.mHi[c]))
      .attr("fill", "#0000ff").attr("fill-opacity", 0.1);

    // grid
    inner.selectAll("line.hgrid").data(powerTicks.filter(v => v !== 0)).enter().append("line")
      .attr("x1", 0).attr("x2", panelW)
      .attr("y1", d => y(d)).attr("y2", d => y(d))
      .attr("stroke", "#000").attr("stroke-opacity", 0.13).attr("stroke-width", 2.5);
    inner.append("line")
      .attr("x1", x(50)).attr("x2", x(50)).attr("y1", 0).attr("y2", panelH)
      .attr("stroke", "#000").attr("stroke-opacity", 0.13).attr("stroke-width", 2.5);

    // zero power line
    inner.append("line")
      .attr("x1", 0).attr("x2", panelW).attr("y1", y(0)).attr("y2", y(0))
      .attr("stroke", "#4a4a4a").attr("stroke-width", 3);

    // Cliff's delta
    inner.append("path")
      .attr("d", d3.line().x(d => x(d[0])).y(d => yCD(d[1]))(rd.cd[c]))
      .attr("fill", "none").attr("stroke", "#555").attr("stroke-width", 2.6)
      .attr("stroke-dasharray", "14,5,3,5");

    // medians
    const medLine = vals => d3.line()
      .x((d, i) => x(stance[i])).y((d, i) => y(vals[i]))
      .curve(d3.curveMonotoneX)(stance);
    inner.append("path").attr("d", medLine(rd.fMed[c]))
      .attr("fill", "none").attr("stroke", "#ff0000").attr("stroke-width", 3.6);
    inner.append("path").attr("d", medLine(rd.mMed[c]))
      .attr("fill", "none").attr("stroke", "#0000ff").attr("stroke-width", 3.6)
      .attr("stroke-dasharray", "15,11");

    // inner ticks
    const tickStyle = a => {
      a.select(".domain").remove();
      a.selectAll(".tick line").attr("stroke", "#333").attr("stroke-width", 2.5);
    };
    g.append("g").call(d3.axisRight(y).tickValues(powerTicks).tickSize(10).tickFormat("")).call(tickStyle);
    g.append("g").attr("transform", `translate(${panelW},0)`)
      .call(d3.axisLeft(yCD).tickValues(cliffTicks).tickSize(10).tickFormat("")).call(tickStyle);
    g.append("g").call(d3.axisBottom(x).tickValues([50]).tickSize(10).tickFormat("")).call(tickStyle);
    g.append("g").attr("transform", `translate(0,${panelH})`)
      .call(d3.axisTop(x).tickValues([50]).tickSize(10).tickFormat("")).call(tickStyle);

    // frame
    g.append("rect").attr("width", panelW).attr("height", panelH)
      .attr("fill", "none").attr("stroke", "#444").attr("stroke-width", 3);

    // tick labels
    const labelStyle = (a, color) => {
      a.select(".domain").remove();
      a.selectAll("text").attr("font-size", fontTick).attr("fill", color)
        .attr("font-family", "Liberation Sans, Arial, sans-serif");
    };
    if (c === 0) {
      g.append("g").call(d3.axisLeft(y).tickValues(powerTicks).tickSize(0).tickPadding(12).tickFormat(fmtPower))
        .call(a => labelStyle(a, "#262626"));
    }
    if (c === columns.length - 1) {
      g.append("g").attr("transform", `translate(${panelW},0)`)
        .call(d3.axisRight(yCD).tickValues(cliffTicks).tickSize(0).tickPadding(12).tickFormat(fmtCD))
        .call(a => labelStyle(a, "#7f7f7f"));
    }
    if (r === 1) {
      g.append("g").attr("transform", `translate(0,${panelH})`)
        .call(d3.axisBottom(x).tickValues(stanceTicks).tickSize(0).tickPadding(30))
        .call(a => labelStyle(a, "#262626"));
    }

    // in-panel annotations
    g.append("text").attr("x", 10).attr("y", 42).attr("font-size", fontInner)
      .attr("fill", "#262626").text("concentric");
    g.append("text").attr("x", 10).attr("y", panelH - 14).attr("font-size", fontInner)
      .attr("fill", "#262626").text("eccentric");
    g.append("text").attr("x", panelW - 10).attr("y", 102).attr("font-size", fontInner)
      .attr("text-anchor", "end").attr("fill", "#7f7f7f")
      .text(`Avg. CD ${avgCD[r][c].toFixed(2)}`);

    if (r === 0) {
      g.append("text").attr("x", panelW / 2).attr("y", -15)
        .attr("text-anchor", "middle").attr("font-size", 48).attr("fill", "#000")
        .text(col);
    }
  });

  // row label
  svg.append("text")
    .attr("transform", `translate(190,${rowTop[r] + panelH / 2}) rotate(-90)`)
    .attr("text-anchor", "middle").attr("font-size", 46).attr("fill", "#000")
    .style("white-space", "pre")
    .text(rowLabels[r]);
});

// y title
const yTitle = svg.append("text")
  .attr("transform", "translate(74,1140) rotate(-90)")
  .attr("text-anchor", "middle").attr("font-size", 54).attr("fill", "#000");
yTitle.append("tspan").text("Frontal Hip Joint Power (W\u00b7BW");
yTitle.append("tspan").attr("dy", -20).attr("font-size", 36).text("\u22121");
yTitle.append("tspan").attr("dy", 20).text("\u00b7BH");
yTitle.append("tspan").attr("dy", -20).attr("font-size", 36).text("\u22121");
yTitle.append("tspan").attr("dy", 20).text(")");

// right title
svg.append("text")
  .attr("transform", "translate(4352,1115) rotate(-90)")
  .attr("text-anchor", "middle").attr("font-size", 54).attr("fill", "#7f7f7f")
  .text("Cliff\u00b4s Delta");

// x title
svg.append("text")
  .attr("x", (panelLeft0 + panelLeft0 + 7 * panelStep + panelW) / 2).attr("y", 2230)
  .attr("text-anchor", "middle").attr("font-size", 54).attr("fill", "#000")
  .text("Stance phase (%)");

// legend
const legend = svg.append("g");
legend.append("rect").attr("x", 854).attr("y", 28).attr("width", 2752).attr("height", 68)
  .attr("fill", "#fff").attr("stroke", "#262626").attr("stroke-width", 3);
const legendItems = [
  { kind: "line", x: 871, color: "#ff0000", dash: null, tx: 1055 },
  { kind: "rect", x: 1314, color: "#ff0000", op: 0.13, tx: 1496 },
  { kind: "line", x: 1737, color: "#0000ff", dash: "9,6", tx: 1916 },
  { kind: "rect", x: 2145, color: "#0000ff", op: 0.1, tx: 2327 },
  { kind: "rect", x: 2532, color: "#ebebeb", op: 1, tx: 2714 },
  { kind: "line", x: 3193, color: "#555", dash: "14,5,3,5", tx: 3371 }
];
legendItems.forEach((it, i) => {
  if (it.kind === "line") {
    legend.append("line").attr("x1", it.x).attr("x2", it.x + 165).attr("y1", 62).attr("y2", 62)
      .attr("stroke", it.color).attr("stroke-width", it.color === "#555" ? 2.6 : 3.6)
      .attr("stroke-dasharray", it.dash);
  } else {
    legend.append("rect").attr("x", it.x).attr("y", 43).attr("width", 170).attr("height", 38)
      .attr("fill", it.color).attr("fill-opacity", it.op);
  }
  legend.append("text").attr("x", it.tx).attr("y", 76).attr("font-size", 40).attr("fill", "#000")
    .text(legendLabels[i]);
});
</script>
</body>
</html>
